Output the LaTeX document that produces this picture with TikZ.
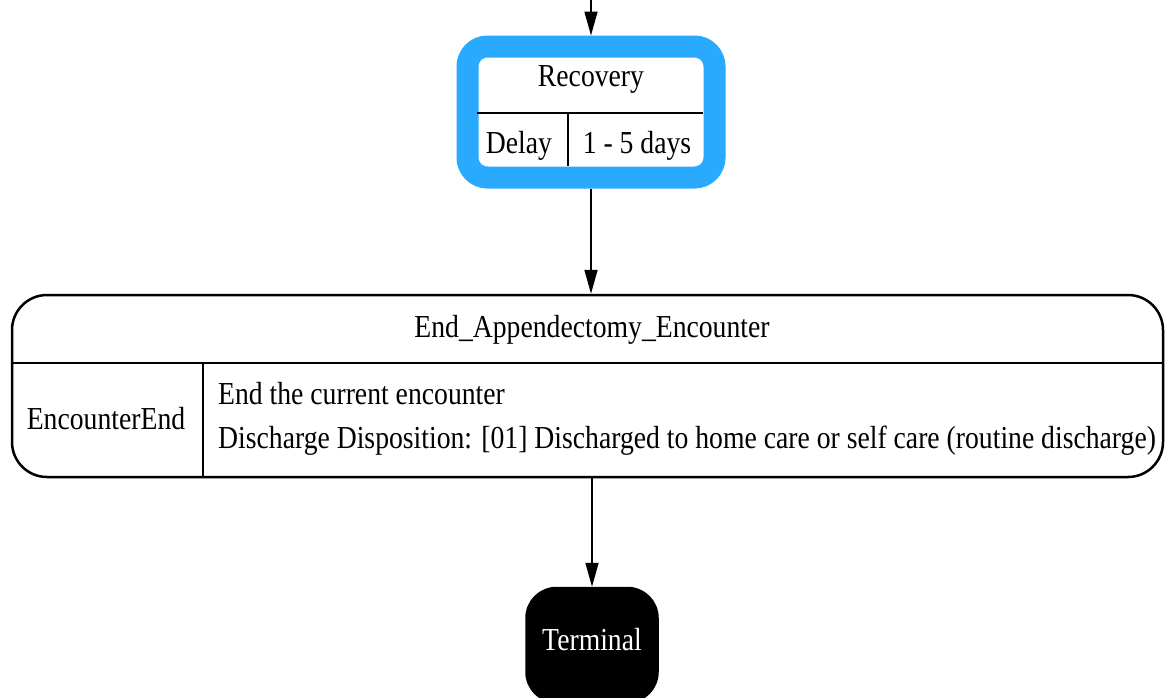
\documentclass[tikz,border=0pt]{standalone}
\usepackage{fontspec}
\setmainfont{Liberation Serif}[FakeStretch=0.865]
\usepackage{tikz}
\usetikzlibrary{shapes,positioning,calc}
\usetikzlibrary{arrows.meta}
\definecolor{activeblue}{RGB}{41,170,255}
\tikzstyle{arrow} = [line width=1.8pt,-{Triangle[length=24pt,width=13pt]}]

\begin{document}
\begin{tikzpicture}[x=1pt,y=-1pt,
	statebox/.style={rectangle, draw, rounded corners=#1, line width=2.5pt, inner sep=0pt},
	statebox/.default=35pt,
	txt/.style={font=\fontsize{32}{44}\selectfont, inner sep=0pt, align=left}]
	\useasboundingbox (0,0) rectangle (1165,697);
	
	% STATES
	
	\node [statebox=20pt, draw=activeblue, line width=22pt, minimum width=247pt, minimum height=131pt] (recovery) at (591,112) {};
	\node [txt] (rectitle) at (591,79) {Recovery};
	\node [txt] (recdelay) at (519,146) {Delay};
	\node [txt] (recdays) at (637,146) {1 - 5 days};
	\draw [line width=2.5pt] (477,113) -- (703,113);
	\draw [line width=2.5pt] (568,113) -- (568,166);
	
	\node [statebox, minimum width=1151pt, minimum height=182pt] (endenc) at (587.5,386) {};
	\node [txt] (endtitle) at (592,330) {End\_Appendectomy\_Encounter};
	\node [txt] (endkind) at (106,419) {EncounterEnd};
	\node [txt, anchor=west] (enddesc) at (218,419) {End the current encounter\\Discharge Disposition: [01] Discharged to home care or self care (routine discharge)};
	\draw [line width=2.5pt] (12,363) -- (1163,363);
	\draw [line width=2.5pt] (203,363) -- (203,477);
	
	\node [statebox=30pt, fill=black, minimum width=131pt, minimum height=114pt] (terminal) at (592,645) {};
	\node [txt, text=white] (termtext) at (592,640) {Terminal};
	
	% TRANSITIONS
	
	\coordinate (entry) at (591,0);
	\draw [arrow] (entry) -- (recovery.north);
	\draw [arrow] (recovery.south) -- (recovery.south |- endenc.north);
	\draw [arrow] (endenc.south -| terminal.north) -- (terminal.north);
	
\end{tikzpicture}
\end{document}
